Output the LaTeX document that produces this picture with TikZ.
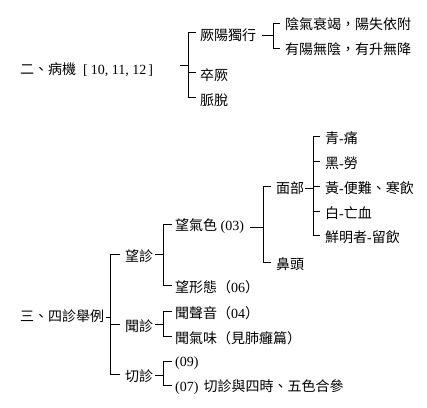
\documentclass[tikz,border=0pt]{standalone}
\usepackage{fontspec}
\setmainfont{Liberation Serif}
\newfontfamily\cjk{Noto Sans CJK TC}
\begin{document}
\begin{tikzpicture}[x=1pt,y=-1pt,
  lbl/.style={anchor=west,inner sep=0pt,font=\fontsize{14}{16}\selectfont},
  br/.style={line width=1pt,black}]
\useasboundingbox[fill=white] (0,0) rectangle (427,407);
% ---------- section 2 ----------
\node[lbl] (a)   at (20,70)  {{\cjk 二、病機}\hspace{7pt}[\hspace{3pt}10, 11, 12\hspace{2pt}]};
\node[lbl] (a1)  at (200,35) {\cjk 厥陽獨行};
\node[lbl] (a11) at (285,24) {\cjk 陰氣衰竭，陽失依附};
\node[lbl] (a12) at (285,49) {\cjk 有陽無陰，有升無降};
\node[lbl] (a2)  at (200,75) {\cjk 卒厥};
\node[lbl] (a3)  at (200,100){\cjk 脈脫};
% ---------- section 3 ----------
\node[lbl] (b)    at (20,316)  {\cjk 三、四診舉例};
\node[lbl] (b1)   at (125,256) {\cjk 望診};
\node[lbl] (b11)  at (175,226) {{\cjk 望氣色} (03)};
\node[lbl] (b111) at (276,188) {\cjk 面部};
\node[lbl] (c1)   at (325,138) {{\cjk 青}-{\cjk 痛}};
\node[lbl] (c2)   at (325,163) {{\cjk 黑}-{\cjk 勞}};
\node[lbl] (c3)   at (325,188) {{\cjk 黃}-{\cjk 便難、寒飲}};
\node[lbl] (c4)   at (325,213) {{\cjk 白}-{\cjk 亡血}};
\node[lbl] (c5)   at (325,237) {{\cjk 鮮明者}-{\cjk 留飲}};
\node[lbl] (b112) at (276,264) {\cjk 鼻頭};
\node[lbl] (b12)  at (175,287) {{\cjk 望形態（}06{\cjk ）}};
\node[lbl] (b2)   at (125,326) {\cjk 聞診};
\node[lbl] (b21)  at (175,313) {{\cjk 聞聲音（}04{\cjk ）}};
\node[lbl] (b22)  at (175,338) {\cjk 聞氣味（見肺癰篇）};
\node[lbl] (b3)   at (125,376) {\cjk 切診};
\node[lbl] (b31)  at (175,363) {(09)};
\node[lbl] (b32)  at (175,387) {(07)\hspace{5pt}{\cjk 切診與四時、五色合參}};
% ---------- junctions ----------
\coordinate (jA)   at (188,65);
\coordinate (jA1)  at (273,35);
\coordinate (jB)   at (110,317);
\coordinate (jB1)  at (163,254);
\coordinate (jB11) at (263,227);
\coordinate (jB111) at (313,188);
\coordinate (jB2)  at (163,324);
\coordinate (jB3)  at (163,375);
% ---------- connectors ----------
\draw[br] ([xshift=-8pt]jA) -- (jA);
\foreach \c in {a1,a2,a3} \draw[br] (jA) |- ([xshift=-4pt,yshift=2.5pt]\c.west);
\draw[br] ([xshift=6pt]a1.east |- jA1) -- (jA1);
\foreach \c in {a11,a12} \draw[br] (jA1) |- ([xshift=-5pt,yshift=1pt]\c.west);
\draw[br] ([xshift=2pt]b.east |- jB) -- (jB);
\foreach \c in {b1,b2,b3} \draw[br] (jB) |- ([xshift=-5pt,yshift=2pt]\c.west);
\draw[br] ([xshift=2pt]b1.east |- jB1) -- (jB1);
\foreach \c in {b11,b12} \draw[br] (jB1) |- ([xshift=-3pt,yshift=2pt]\c.west);
\draw[br] ([xshift=6pt]b11.east |- jB11) -- (jB11);
\foreach \c in {b111,b112} \draw[br] (jB11) |- ([xshift=-5pt,yshift=1.5pt]\c.west);
\draw[br] ([xshift=1pt]b111.east |- jB111) -- (jB111);
\foreach \c in {c1,c2,c3,c4,c5} \draw[br] (jB111) |- ([xshift=-5pt,yshift=2pt]\c.west);
\draw[br] ([xshift=2pt]b2.east |- jB2) -- (jB2);
\foreach \c in {b21,b22} \draw[br] (jB2) |- ([xshift=-3pt,yshift=1.5pt]\c.west);
\draw[br] ([xshift=2pt]b3.east |- jB3) -- (jB3);
\foreach \c in {b31,b32} \draw[br] (jB3) |- ([xshift=-3pt,yshift=1.5pt]\c.west);
\end{tikzpicture}
\end{document}
